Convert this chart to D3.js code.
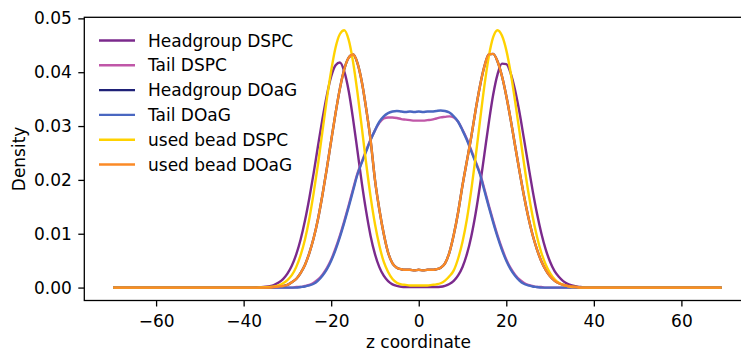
<!DOCTYPE html>
<html>
<head>
<meta charset="utf-8">
<script src="https://cdn.jsdelivr.net/npm/d3@7"></script>
<style>
	body { margin: 0; background: #fff; }
	text { font-family: 'DejaVu Sans', sans-serif; }
</style>
</head>
<body>
<div id="viz"></div>
<script>

	// z grid (nm-ish units), dense in the membrane region
	let zCoord = [-69.5, -50,
		-40, -39, -38, -37, -36, -35, -34, -33, -32, -31,
		-30, -29, -28, -27, -26, -25, -24, -23, -22, -21,
		-20, -19, -18, -17, -16, -15, -14, -13, -12, -11,
		-10, -9, -8, -7, -6, -5, -4, -3, -2, -1,
		0, 1, 2, 3, 4, 5, 6, 7, 8, 9,
		10, 11, 12, 13, 14, 15, 16, 17, 18, 19,
		20, 21, 22, 23, 24, 25, 26, 27, 28, 29,
		30, 31, 32, 33, 34, 35, 36, 37, 38, 39,
		40, 50, 68.9];

	let headgroupDSPC = [0, 0,
		0, 0, 0, 0.00002, 0.00007, 0.00015, 0.00028, 0.00052, 0.00093, 0.00158,
		0.00259, 0.00406, 0.00613, 0.00888, 0.0124, 0.0166, 0.0213, 0.0264, 0.0313, 0.0357,
		0.0392, 0.0413, 0.0418, 0.0401, 0.0365, 0.0313, 0.0254, 0.0194, 0.0141, 0.0096,
		0.0062, 0.0038, 0.0022, 0.0012, 0.0006, 0.0003, 0.00015, 0.0001, 0.0001, 0.0001,
		0.0001, 0.0001, 0.0001, 0.0001, 0.0001, 0.00015, 0.00033, 0.00065, 0.00125, 0.00226,
		0.00383, 0.0062, 0.0095, 0.0138, 0.0190, 0.0248, 0.0306, 0.0358, 0.0396, 0.0416,
		0.0415, 0.0398, 0.0367, 0.0326, 0.0278, 0.0229, 0.0181, 0.0138, 0.0101, 0.0071,
		0.0048, 0.0031, 0.0020, 0.0012, 0.0007, 0.0004, 0.0002, 0.0001, 0, 0,
		0, 0, 0];

	let tailDSPC = [0, 0,
		0, 0, 0, 0, 0, 0, 0, 0, 0, 0,
		0, 0, 0.0001, 0.0001, 0.0003, 0.0005, 0.0009, 0.0015, 0.0024, 0.0036,
		0.0052, 0.0073, 0.0097, 0.0124, 0.0153, 0.0183, 0.0212, 0.0234, 0.0255, 0.0275,
		0.0292, 0.0306, 0.0314, 0.0316, 0.0316, 0.0315, 0.0313, 0.0312, 0.0311, 0.0310,
		0.0310, 0.0310, 0.0311, 0.0312, 0.0314, 0.0316, 0.0317, 0.0318, 0.0316, 0.0308,
		0.0293, 0.0276, 0.0255, 0.0234, 0.0212, 0.0183, 0.0153, 0.0124, 0.0097, 0.0073,
		0.0052, 0.0036, 0.0024, 0.0015, 0.0009, 0.0005, 0.0003, 0.0001, 0.0001, 0,
		0, 0, 0, 0, 0, 0, 0, 0, 0, 0,
		0, 0, 0];

	let headgroupDOaG = [0, 0,
		0, 0, 0, 0, 0, 0, 0, 0.0001, 0.0002, 0.0003,
		0.0005, 0.0010, 0.0016, 0.0027, 0.0042, 0.0064, 0.0092, 0.0128, 0.0172, 0.0221,
		0.0273, 0.0324, 0.0370, 0.0406, 0.0427, 0.0433, 0.0417, 0.0382, 0.0332, 0.0274,
		0.0200, 0.0145, 0.0100, 0.0065, 0.0045, 0.0037, 0.0034, 0.0033, 0.0033, 0.0032,
		0.0033, 0.0032, 0.0033, 0.0033, 0.0034, 0.0037, 0.0045, 0.0065, 0.0098, 0.0140,
		0.0190, 0.0235, 0.0280, 0.0330, 0.0375, 0.0411, 0.0433, 0.0434, 0.0420, 0.0393,
		0.0356, 0.0312, 0.0264, 0.0217, 0.0172, 0.0132, 0.0098, 0.0071, 0.0049, 0.0033,
		0.0021, 0.0013, 0.0008, 0.0005, 0.0003, 0.0002, 0.0001, 0, 0, 0,
		0, 0, 0];

	let tailDOaG = [0, 0,
		0, 0, 0, 0, 0, 0, 0, 0, 0, 0,
		0, 0, 0, 0.0001, 0.0002, 0.0004, 0.0007, 0.0013, 0.0022, 0.0034,
		0.0050, 0.0070, 0.0094, 0.0121, 0.0150, 0.0180, 0.0210, 0.0232, 0.0253, 0.0274,
		0.0292, 0.0308, 0.0318, 0.0324, 0.0327, 0.0328, 0.0327, 0.0326, 0.0327, 0.0326,
		0.0327, 0.0326, 0.0327, 0.0327, 0.0328, 0.0329, 0.0328, 0.0325, 0.0318, 0.0308,
		0.0292, 0.0274, 0.0253, 0.0232, 0.0210, 0.0180, 0.0150, 0.0121, 0.0094, 0.0070,
		0.0050, 0.0034, 0.0022, 0.0013, 0.0007, 0.0004, 0.0002, 0.0001, 0, 0,
		0, 0, 0, 0, 0, 0, 0, 0, 0, 0,
		0, 0, 0];

	let usedBeadDSPC = [0, 0,
		0, 0, 0, 0, 0.00002, 0.00005, 0.0001, 0.0002, 0.0004, 0.0008,
		0.0014, 0.0023, 0.0038, 0.0060, 0.0089, 0.0128, 0.0176, 0.0230, 0.0290, 0.0350,
		0.0403, 0.0446, 0.0471, 0.0478, 0.0460, 0.0419, 0.0362, 0.0297, 0.0230, 0.0169,
		0.0118, 0.0078, 0.0048, 0.0029, 0.0016, 0.0009, 0.0006, 0.0005, 0.0004, 0.0004,
		0.0004, 0.0004, 0.0004, 0.0005, 0.0006, 0.0008, 0.0013, 0.0021, 0.0032, 0.0054,
		0.0085, 0.0127, 0.0181, 0.0243, 0.0310, 0.0375, 0.0429, 0.0465, 0.0478, 0.0468,
		0.0441, 0.0399, 0.0347, 0.0290, 0.0233, 0.0179, 0.0133, 0.0095, 0.0065, 0.0043,
		0.0027, 0.0016, 0.0009, 0.0005, 0.0003, 0.0001, 0.0001, 0, 0, 0,
		0, 0, 0];

	let usedBeadDOaG = [0, 0,
		0, 0, 0, 0, 0, 0, 0, 0.0001, 0.0002, 0.0003,
		0.0005, 0.0010, 0.0016, 0.0027, 0.0042, 0.0064, 0.0092, 0.0128, 0.0172, 0.0221,
		0.0273, 0.0324, 0.0370, 0.0406, 0.0427, 0.0433, 0.0417, 0.0382, 0.0332, 0.0274,
		0.0200, 0.0145, 0.0100, 0.0065, 0.0045, 0.0037, 0.0034, 0.0033, 0.0033, 0.0032,
		0.0033, 0.0032, 0.0033, 0.0033, 0.0034, 0.0037, 0.0045, 0.0065, 0.0098, 0.0140,
		0.0190, 0.0235, 0.0280, 0.0330, 0.0375, 0.0411, 0.0433, 0.0434, 0.0420, 0.0393,
		0.0356, 0.0312, 0.0264, 0.0217, 0.0172, 0.0132, 0.0098, 0.0071, 0.0049, 0.0033,
		0.0021, 0.0013, 0.0008, 0.0005, 0.0003, 0.0002, 0.0001, 0, 0, 0,
		0, 0, 0];

	let seriesNames = ['Headgroup DSPC', 'Tail DSPC', 'Headgroup DOaG', 'Tail DOaG', 'used bead DSPC', 'used bead DOaG'];
	let seriesValues = [headgroupDSPC, tailDSPC, headgroupDOaG, tailDOaG, usedBeadDSPC, usedBeadDOaG];
	let seriesColors = ['#7b2a8c', '#c057a8', '#1f2177', '#4a67c1', '#ffd200', '#fb8a26'];

	let xTicks = [-60, -40, -20, 0, 20, 40, 60],
		yTicks = [0, 0.01, 0.02, 0.03, 0.04, 0.05];

	let width = 741,
		height = 352,
		fontSize = '17px',
		plot = { left: 84.3, top: 17.3, right: 751, bottom: 300.5 };

	let xScale = d3.scaleLinear()
		.domain([-76.4, 75.9])
		.range([plot.left, plot.right]);

	let yScale = d3.scaleLinear()
		.domain([-0.0024, 0.0502])
		.range([plot.bottom, plot.top]);

	let svg = d3.select('#viz').append('svg')
		.attr('width', width)
		.attr('height', height)
		.style('display', 'block');

	let line = d3.line()
		.x(function(d) { return xScale(d[0]); })
		.y(function(d) { return yScale(d[1]); })
		.curve(d3.curveMonotoneX);

	svg.append('g')
		.selectAll('path').data(seriesValues)
		.enter().append('path')
		.attr('d', function(vals) {
			return line(vals.map(function(v, i) { return [zCoord[i], v]; }));
		})
		.attr('fill', 'none')
		.attr('stroke', function(d, i) { return seriesColors[i]; })
		.attr('stroke-width', 2.4)
		.attr('stroke-linejoin', 'round')
		.attr('stroke-linecap', 'square');

	// frame
	svg.append('rect')
		.attr('x', plot.left)
		.attr('y', plot.top)
		.attr('width', plot.right - plot.left)
		.attr('height', plot.bottom - plot.top)
		.attr('fill', 'none')
		.attr('stroke', '#000')
		.attr('stroke-width', 1.3);

	let xGuide = svg.append('g')
		.attr('transform', 'translate(0,' + plot.bottom + ')')
		.call(d3.axisBottom(xScale).tickValues(xTicks).tickSize(6).tickPadding(8).tickSizeOuter(0));

	let yGuide = svg.append('g')
		.attr('transform', 'translate(' + plot.left + ',0)')
		.call(d3.axisLeft(yScale).tickValues(yTicks).tickFormat(d3.format('.2f')).tickSize(6).tickPadding(6.5).tickSizeOuter(0));

	[xGuide, yGuide].forEach(function(g) {
		g.select('.domain').remove();
		g.selectAll('.tick line').attr('stroke', '#000').attr('stroke-width', 1.3);
		g.selectAll('.tick text')
			.attr('fill', '#000')
			.style('font-family', "'DejaVu Sans', sans-serif")
			.style('font-size', fontSize);
	});

	svg.append('text')
		.attr('x', 418.5)
		.attr('y', 348)
		.attr('text-anchor', 'middle')
		.style('font-size', fontSize)
		.text('z coordinate');

	svg.append('text')
		.attr('transform', 'translate(25,' + ((plot.top + plot.bottom) / 2) + ') rotate(-90)')
		.attr('text-anchor', 'middle')
		.style('font-size', fontSize)
		.text('Density');

	// legend, no frame
	let legend = svg.append('g')
		.selectAll('g').data(seriesNames)
		.enter().append('g')
		.attr('transform', function(d, i) { return 'translate(99,' + (40.5 + i * 24.8) + ')'; });

	legend.append('line')
		.attr('x1', 0)
		.attr('x2', 36)
		.attr('stroke', function(d, i) { return seriesColors[i]; })
		.attr('stroke-width', 2.4);

	legend.append('text')
		.attr('x', 49)
		.attr('y', 6)
		.style('font-size', fontSize)
		.text(function(d) { return d; });

</script>
</body>
</html>
